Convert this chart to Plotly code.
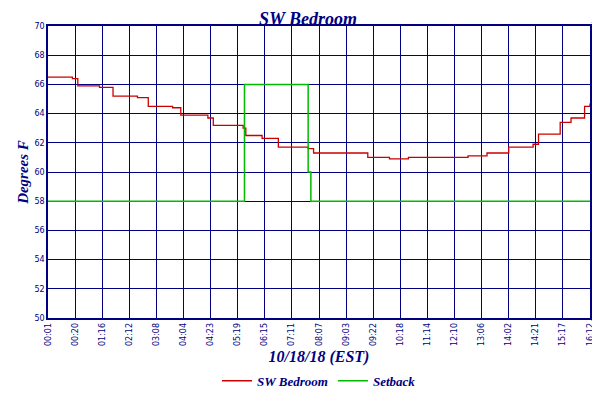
import plotly.graph_objects as go

tick_labels = ["00:01", "00:20", "01:16", "02:12", "03:08", "04:04", "04:23", "05:19", "06:15", "07:11",
               "08:07", "09:03", "09:22", "10:18", "11:14", "12:10", "13:06", "14:02", "14:21", "15:17", "16:12"]

# positions in tick-interval units
room_x = [0, 0.9, 1.1, 1.9, 2.4, 3.3, 3.7, 4.6, 4.9, 5.9, 6.1, 7.2, 7.3, 7.9, 8.5, 9.6, 9.8,
          11.8, 12.6, 13.3, 15.5, 16.2, 17.0, 17.9, 18.1, 18.9, 19.3, 19.8, 20]
room_temp = [66.5, 66.4, 65.9, 65.8, 65.2, 65.1, 64.5, 64.4, 63.9, 63.7, 63.2, 63.0, 62.5, 62.3,
             61.7, 61.6, 61.3, 61.0, 60.9, 61.0, 61.1, 61.3, 61.7, 61.9, 62.6, 63.4, 63.7, 64.5, 64.7]

setback_x = [0, 7.25, 9.6, 9.7, 20]
setback_temp = [58, 66, 60, 58, 58]

navy = "#000080"
fig = go.Figure()
fig.add_trace(go.Scatter(x=room_x, y=room_temp, mode="lines", line_shape="hv",
                         line=dict(color="#cc0000", width=1.3), name="SW Bedroom"))
fig.add_trace(go.Scatter(x=setback_x, y=setback_temp, mode="lines", line_shape="hv",
                         line=dict(color="#00bb00", width=1.5), name="Setback"))

axis_common = dict(showgrid=True, gridcolor=navy, gridwidth=1, showline=True, linecolor=navy,
                   linewidth=1.5, mirror=True, zeroline=False, automargin=False,
                   tickfont=dict(family="DejaVu Sans", size=8, color=navy))
fig.update_xaxes(range=[0, 20], tickvals=list(range(21)), ticktext=tick_labels, tickangle=-90,
                 title=dict(text="<b>10/18/18 (EST)</b>", standoff=6,
                            font=dict(family="Liberation Serif", size=16, color=navy, style="italic")),
                 **axis_common)
fig.update_yaxes(range=[50, 70], dtick=2,
                 title=dict(text="<b>Degrees F</b>", standoff=2,
                            font=dict(family="Liberation Serif", size=15, color=navy, style="italic")),
                 **axis_common)
fig.add_trace(go.Scatter(x=[None], y=[None], yaxis="y2", showlegend=False))
fig.update_layout(
    yaxis2=dict(overlaying="y", side="right", range=[50, 70], dtick=2, showgrid=False, automargin=False,
                tickfont=dict(family="DejaVu Sans", size=8, color=navy)),
    title=dict(text="<b>SW Bedroom</b>", x=0.5, y=0.99, yanchor="top", xanchor="center",
               font=dict(family="Liberation Serif", size=18, color=navy, style="italic")),
    width=600, height=400, margin=dict(l=40, r=18, t=18, b=78),
    paper_bgcolor="white", plot_bgcolor="white",
    legend=dict(orientation="h", x=0.5, xanchor="center", y=-0.215, yanchor="middle",
                font=dict(family="Liberation Serif", size=13, color=navy, style="italic")),
)
fig.for_each_trace(lambda t: t.update(name="<b>" + t.name + "</b>") if t.name else None)
fig.write_html("out.html")
